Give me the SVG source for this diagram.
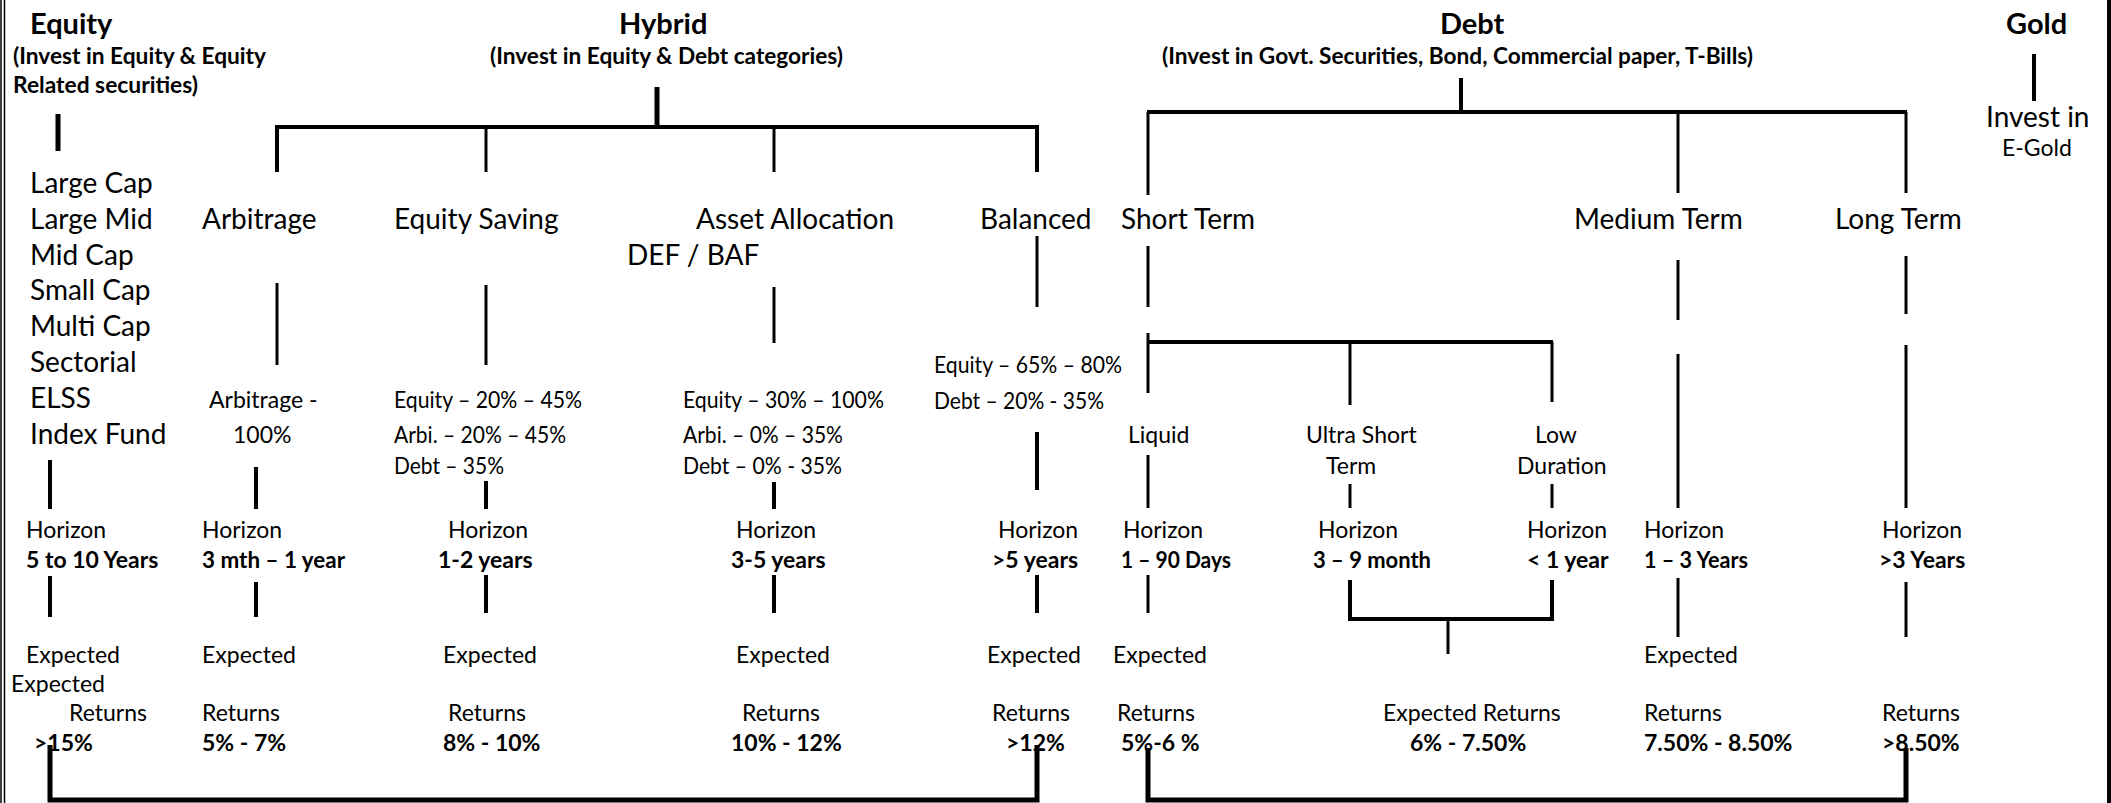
<svg xmlns="http://www.w3.org/2000/svg" width="2111" height="803" viewBox="0 0 2111 803">
<style>
text{fill:#000;font-family:Lato,"Liberation Sans",sans-serif}
.h{font-size:29px;font-weight:bold}
.s{font-size:23px;font-weight:bold}
.l{font-size:28px}
.m{font-size:23px}
.b{font-size:23px;font-weight:bold}
.c line,.c polyline{stroke:#000;fill:none}
.t3{stroke-width:3}
.t4{stroke-width:4}
.t5{stroke-width:5}
</style>
<rect width="2111" height="803" fill="#fff"/>
<g id="border">
<line x1="1" y1="0" x2="1" y2="803" stroke="#000" stroke-width="1.5"/>
<line x1="4.5" y1="0" x2="4.5" y2="803" stroke="#000" stroke-width="1.5"/>
<rect x="2107" y="0" width="4" height="803" fill="#000"/>
</g>
<g id="connectors" class="c">
<line class="t5" x1="58" y1="114" x2="58" y2="151"/>
<line class="t5" x1="657" y1="87" x2="657" y2="127"/>
<polyline class="t4" points="277,172 277,127 1037,127 1037,172"/>
<line class="t3" x1="486" y1="127" x2="486" y2="172"/>
<line class="t3" x1="774" y1="127" x2="774" y2="172"/>
<line class="t4" x1="1461" y1="78" x2="1461" y2="112"/>
<line class="t4" x1="1147" y1="112" x2="1907" y2="112"/>
<line class="t3" x1="1148" y1="112" x2="1148" y2="195"/>
<line class="t3" x1="1678" y1="112" x2="1678" y2="193"/>
<line class="t3" x1="1906" y1="112" x2="1906" y2="193"/>
<line class="t4" x1="2034" y1="54" x2="2034" y2="101"/>
<line class="t3" x1="277" y1="283" x2="277" y2="365"/>
<line class="t3" x1="486" y1="285" x2="486" y2="365"/>
<line class="t3" x1="774" y1="287" x2="774" y2="343"/>
<line class="t3" x1="1037" y1="236" x2="1037" y2="307"/>
<line class="t3" x1="1148" y1="246" x2="1148" y2="307"/>
<line class="t3" x1="1678" y1="260" x2="1678" y2="320"/>
<line class="t3" x1="1906" y1="256" x2="1906" y2="314"/>
<line class="t4" x1="1147" y1="342" x2="1553" y2="342"/>
<line class="t3" x1="1148" y1="333" x2="1148" y2="393"/>
<line class="t3" x1="1350" y1="342" x2="1350" y2="405"/>
<line class="t3" x1="1552" y1="342" x2="1552" y2="402"/>
<line class="t4" x1="50" y1="460" x2="50" y2="509"/>
<line class="t4" x1="256" y1="467" x2="256" y2="509"/>
<line class="t4" x1="486" y1="481" x2="486" y2="509"/>
<line class="t4" x1="774" y1="482" x2="774" y2="509"/>
<line class="t4" x1="1037" y1="432" x2="1037" y2="490"/>
<line class="t3" x1="1148" y1="455" x2="1148" y2="508"/>
<line class="t3" x1="1350" y1="484" x2="1350" y2="508"/>
<line class="t3" x1="1552" y1="484" x2="1552" y2="508"/>
<line class="t3" x1="1678" y1="354" x2="1678" y2="508"/>
<line class="t3" x1="1906" y1="345" x2="1906" y2="508"/>
<line class="t4" x1="50" y1="576" x2="50" y2="617"/>
<line class="t4" x1="256" y1="582" x2="256" y2="617"/>
<line class="t4" x1="486" y1="575" x2="486" y2="613"/>
<line class="t4" x1="774" y1="575" x2="774" y2="613"/>
<line class="t4" x1="1037" y1="575" x2="1037" y2="613"/>
<line class="t3" x1="1148" y1="575" x2="1148" y2="613"/>
<polyline class="t4" points="1350,580 1350,619 1552,619 1552,580"/>
<line class="t3" x1="1448" y1="619" x2="1448" y2="654"/>
<line class="t3" x1="1678" y1="578" x2="1678" y2="637"/>
<line class="t3" x1="1906" y1="582" x2="1906" y2="637"/>
<polyline class="t5" points="50,745 50,800 1037,800 1037,745"/>
<polyline class="t5" points="1148,748 1148,800 1906,800 1906,748"/>
</g>
<g id="equity">
<text class="h" x="30" y="34">Equity</text>
<text class="s" x="13" y="64" textLength="253" lengthAdjust="spacingAndGlyphs">(Invest in Equity &amp; Equity</text>
<text class="s" x="13" y="93" textLength="185" lengthAdjust="spacingAndGlyphs">Related securities)</text>
</g>
<g id="equity-types">
<text class="l" x="30" y="193">Large Cap</text>
<text class="l" x="30" y="229">Large Mid</text>
<text class="l" x="30" y="265">Mid Cap</text>
<text class="l" x="30" y="300">Small Cap</text>
<text class="l" x="30" y="336">Multi Cap</text>
<text class="l" x="30" y="372">Sectorial</text>
<text class="l" x="30" y="408">ELSS</text>
<text class="l" x="30" y="444">Index Fund</text>
<text class="m" x="26" y="538">Horizon</text>
<text class="b" x="26" y="568">5 to 10 Years</text>
<text class="m" x="26" y="663">Expected</text>
<text class="m" x="11" y="692">Expected</text>
<text class="m" x="69" y="721">Returns</text>
<text class="b" x="34" y="751">&gt;15%</text>
</g>
<g id="hybrid">
<text class="h" x="619" y="34">Hybrid</text>
<text class="s" x="490" y="64" textLength="353" lengthAdjust="spacingAndGlyphs">(Invest in Equity &amp; Debt categories)</text>
</g>
<g id="arbitrage">
<text class="l" x="202" y="229">Arbitrage</text>
<text class="m" x="209" y="408">Arbitrage -</text>
<text class="m" x="233" y="443">100%</text>
<text class="m" x="202" y="538">Horizon</text>
<text class="b" x="202" y="568" textLength="143" lengthAdjust="spacingAndGlyphs">3 mth – 1 year</text>
<text class="m" x="202" y="663">Expected</text>
<text class="m" x="202" y="721">Returns</text>
<text class="b" x="202" y="751">5% - 7%</text>
</g>
<g id="equity-saving">
<text class="l" x="394" y="229">Equity Saving</text>
<text class="m" x="394" y="408" textLength="188" lengthAdjust="spacingAndGlyphs">Equity – 20% – 45%</text>
<text class="m" x="394" y="443" textLength="172" lengthAdjust="spacingAndGlyphs">Arbi. – 20% – 45%</text>
<text class="m" x="394" y="474" textLength="110" lengthAdjust="spacingAndGlyphs">Debt – 35%</text>
<text class="m" x="448" y="538">Horizon</text>
<text class="b" x="438" y="568">1-2 years</text>
<text class="m" x="443" y="663">Expected</text>
<text class="m" x="448" y="721">Returns</text>
<text class="b" x="443" y="751">8% - 10%</text>
</g>
<g id="asset-allocation">
<text class="l" x="696" y="229">Asset Allocation</text>
<text class="l" x="627" y="265">DEF / BAF</text>
<text class="m" x="683" y="408" textLength="201" lengthAdjust="spacingAndGlyphs">Equity – 30% – 100%</text>
<text class="m" x="683" y="443" textLength="160" lengthAdjust="spacingAndGlyphs">Arbi. – 0% – 35%</text>
<text class="m" x="683" y="474" textLength="159" lengthAdjust="spacingAndGlyphs">Debt – 0% - 35%</text>
<text class="m" x="736" y="538">Horizon</text>
<text class="b" x="731" y="568">3-5 years</text>
<text class="m" x="736" y="663">Expected</text>
<text class="m" x="742" y="721">Returns</text>
<text class="b" x="731" y="751">10% - 12%</text>
</g>
<g id="balanced">
<text class="l" x="980" y="229">Balanced</text>
<text class="m" x="934" y="373" textLength="188" lengthAdjust="spacingAndGlyphs">Equity – 65% – 80%</text>
<text class="m" x="934" y="409" textLength="170" lengthAdjust="spacingAndGlyphs">Debt – 20% - 35%</text>
<text class="m" x="998" y="538">Horizon</text>
<text class="b" x="992" y="568">&gt;5 years</text>
<text class="m" x="987" y="663">Expected</text>
<text class="m" x="992" y="721">Returns</text>
<text class="b" x="1006" y="751">&gt;12%</text>
</g>
<g id="debt">
<text class="h" x="1440" y="34">Debt</text>
<text class="s" x="1162" y="64" textLength="591" lengthAdjust="spacingAndGlyphs">(Invest in Govt. Securities, Bond, Commercial paper, T-Bills)</text>
</g>
<g id="short-term">
<text class="l" x="1121" y="229">Short Term</text>
</g>
<g id="liquid">
<text class="m" x="1128" y="443">Liquid</text>
<text class="m" x="1123" y="538">Horizon</text>
<text class="b" x="1121" y="568" textLength="110" lengthAdjust="spacingAndGlyphs">1 – 90 Days</text>
<text class="m" x="1113" y="663">Expected</text>
<text class="m" x="1117" y="721">Returns</text>
<text class="b" x="1121" y="751">5%-6 %</text>
</g>
<g id="ultra-short">
<text class="m" x="1306" y="443">Ultra Short</text>
<text class="m" x="1326" y="474">Term</text>
<text class="m" x="1318" y="538">Horizon</text>
<text class="b" x="1313" y="568" textLength="118" lengthAdjust="spacingAndGlyphs">3 – 9 month</text>
</g>
<g id="low-duration">
<text class="m" x="1535" y="443">Low</text>
<text class="m" x="1517" y="474">Duration</text>
<text class="m" x="1527" y="538">Horizon</text>
<text class="b" x="1527" y="568">&lt; 1 year</text>
</g>
<g id="ultra-low-returns">
<text class="m" x="1383" y="721">Expected Returns</text>
<text class="b" x="1410" y="751">6% - 7.50%</text>
</g>
<g id="medium-term">
<text class="l" x="1574" y="229">Medium Term</text>
<text class="m" x="1644" y="538">Horizon</text>
<text class="b" x="1644" y="568" textLength="104" lengthAdjust="spacingAndGlyphs">1 – 3 Years</text>
<text class="m" x="1644" y="663">Expected</text>
<text class="m" x="1644" y="721">Returns</text>
<text class="b" x="1644" y="751">7.50% - 8.50%</text>
</g>
<g id="long-term">
<text class="l" x="1835" y="229">Long Term</text>
<text class="m" x="1882" y="538">Horizon</text>
<text class="b" x="1879" y="568">&gt;3 Years</text>
<text class="m" x="1882" y="721">Returns</text>
<text class="b" x="1882" y="751">&gt;8.50%</text>
</g>
<g id="gold">
<text class="h" x="2006" y="34">Gold</text>
<text class="l" x="1986" y="127">Invest in</text>
<text class="m" x="2002" y="156">E-Gold</text>
</g>
</svg>
